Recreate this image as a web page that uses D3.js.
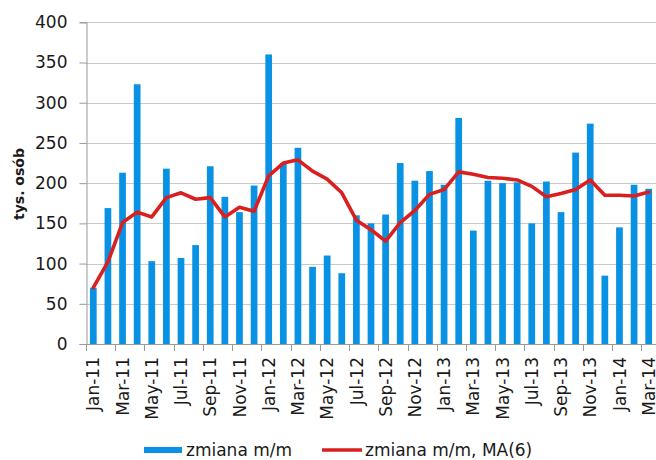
<!DOCTYPE html>
<html>
<head>
<meta charset="utf-8">
<script src="https://cdn.jsdelivr.net/npm/d3@7/dist/d3.min.js"></script>
<style>
  html, body { margin: 0; padding: 0; background: #fff; }
  svg { display: block; font-family: "DejaVu Sans", Verdana, sans-serif; }
</style>
</head>
<body>
<svg id="chart" width="656" height="460"></svg>
<script>
// Monthly change in employment (thousands of persons), Jan-11 .. Mar-14
const months = ["Jan-11","Feb-11","Mar-11","Apr-11","May-11","Jun-11","Jul-11","Aug-11","Sep-11","Oct-11","Nov-11","Dec-11",
                "Jan-12","Feb-12","Mar-12","Apr-12","May-12","Jun-12","Jul-12","Aug-12","Sep-12","Oct-12","Nov-12","Dec-12",
                "Jan-13","Feb-13","Mar-13","Apr-13","May-13","Jun-13","Jul-13","Aug-13","Sep-13","Oct-13","Nov-13","Dec-13",
                "Jan-14","Feb-14","Mar-14"];
const changeMoM = [70,169,213,323,103,218,107,123,221,183,164,197,
                   360,225,244,96,110,88,160,150,161,225,203,215,
                   198,281,141,203,200,201,150,202,164,238,274,85,
                   145,198,193];
const changeMA6 = [70,102,151,164,158,182,188,180,182,158,170,165,
                   209,225,229,215,205,188,154,142,128,151,166,186,
                   192,214,211,207,206,204,196,183,187,192,204,185,
                   185,184,189];
const yTicks = [0,50,100,150,200,250,300,350,400];
const seriesNames = ["zmiana m/m", "zmiana m/m, MA(6)"];
const yTitle = "tys. osób";

const barColor = "#0992e4";
const lineColor = "#d9201f";

const svg = d3.select("#chart");
const plot = { left: 86, right: 656, top: 22.3, bottom: 344 };

const x = d3.scaleBand()
  .domain(months)
  .range([plot.left, plot.right])
  .paddingInner(0.54)
  .paddingOuter(0.27);
const step = x.step();
const xc = m => x(m) + x.bandwidth() / 2;

const y = d3.scaleLinear().domain([0, 400]).range([plot.bottom, plot.top]);

// horizontal gridlines
svg.append("g")
  .selectAll("line")
  .data(yTicks.filter(t => t > 0))
  .join("line")
  .attr("x1", plot.left).attr("x2", plot.right)
  .attr("y1", d => Math.round(y(d)) + 0.5).attr("y2", d => Math.round(y(d)) + 0.5)
  .attr("stroke", "#c9c9c9").attr("stroke-width", 1);

// y axis
const yAxis = svg.append("g")
  .attr("transform", `translate(${plot.left + 0.5},0)`)
  .call(d3.axisLeft(y).tickValues(yTicks).tickSize(7).tickPadding(12));
yAxis.select(".domain").attr("stroke", "#9a9a9a");
yAxis.selectAll(".tick line").attr("stroke", "#9a9a9a");
yAxis.selectAll(".tick text")
  .attr("font-size", 17).attr("fill", "#1a1a1a")
  .attr("font-family", "DejaVu Sans, sans-serif");

// bars
svg.append("g")
  .selectAll("rect")
  .data(months.map((m, i) => ({ m, v: changeMoM[i] })))
  .join("rect")
  .attr("x", d => x(d.m))
  .attr("width", x.bandwidth())
  .attr("y", d => y(d.v))
  .attr("height", d => y(0) - y(d.v))
  .attr("fill", barColor);

// x axis baseline and ticks every other month
svg.append("line")
  .attr("x1", plot.left).attr("x2", plot.right)
  .attr("y1", plot.bottom + 0.5).attr("y2", plot.bottom + 0.5)
  .attr("stroke", "#9a9a9a");

const labelled = months.filter((m, i) => i % 2 === 0);
svg.append("g")
  .selectAll("line")
  .data(labelled)
  .join("line")
  .attr("x1", d => Math.round(x(d) - (step - x.bandwidth()) / 2) + 0.5)
  .attr("x2", d => Math.round(x(d) - (step - x.bandwidth()) / 2) + 0.5)
  .attr("y1", plot.bottom).attr("y2", plot.bottom + 7)
  .attr("stroke", "#9a9a9a");

svg.append("g")
  .selectAll("text")
  .data(labelled)
  .join("text")
  .attr("transform", d => `translate(${xc(d)},${plot.bottom + 13}) rotate(-90)`)
  .attr("text-anchor", "end")
  .attr("dy", "0.36em")
  .attr("font-size", 17)
  .attr("fill", "#1a1a1a")
  .text(d => d);

// moving average line
const line = d3.line()
  .x((d, i) => xc(months[i]))
  .y(d => y(d));
svg.append("path")
  .datum(changeMA6)
  .attr("d", line)
  .attr("fill", "none")
  .attr("stroke", lineColor)
  .attr("stroke-width", 3.6)
  .attr("stroke-linejoin", "round")
  .attr("stroke-linecap", "round");

// y axis title
svg.append("text")
  .attr("transform", "translate(24,184) rotate(-90)")
  .attr("text-anchor", "middle")
  .attr("font-size", 14)
  .attr("font-weight", "bold")
  .attr("fill", "#1a1a1a")
  .text(yTitle);

// legend
const legend = svg.append("g");
legend.append("rect")
  .attr("x", 144).attr("y", 447).attr("width", 38).attr("height", 6)
  .attr("fill", barColor);
legend.append("text")
  .attr("x", 186).attr("y", 456)
  .attr("font-size", 17).attr("fill", "#1a1a1a")
  .text(seriesNames[0]);
legend.append("line")
  .attr("x1", 322).attr("x2", 362).attr("y1", 450).attr("y2", 450)
  .attr("stroke", lineColor).attr("stroke-width", 3.6);
legend.append("text")
  .attr("x", 365).attr("y", 456)
  .attr("font-size", 17).attr("fill", "#1a1a1a")
  .text(seriesNames[1]);
</script>
</body>
</html>
